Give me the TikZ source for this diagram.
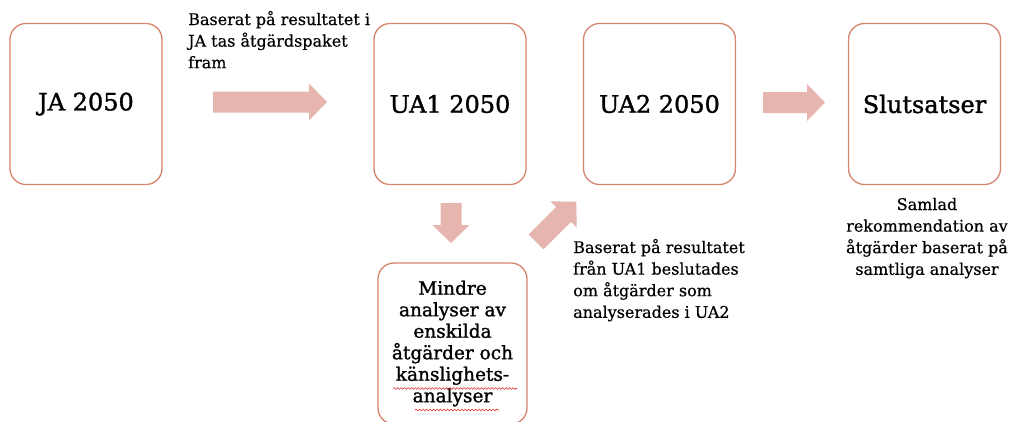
\documentclass[tikz,border=0pt]{standalone}
\usepackage{fontspec}
\setmainfont{DejaVu Serif}
\newfontfamily\boxfont{DejaVu Serif}[RawFeature={embolden=1.3}]
\newfontfamily\notefont{DejaVu Serif}[RawFeature={embolden=0.5}]
\usetikzlibrary{decorations.pathmorphing}
\definecolor{boxline}{RGB}{214,132,108}
\definecolor{arrowfill}{RGB}{230,181,173}
\definecolor{squig}{RGB}{220,40,40}
\tikzset{
  stagebox/.style={draw=boxline, line width=1.3pt, rounded corners=16pt, fill=white,
    minimum width=152pt, minimum height=161pt, inner sep=0pt, align=center,
    font=\boxfont\fontsize{24}{28}\selectfont},
  note/.style={inner sep=0pt, font=\notefont\fontsize{16}{21.6}\selectfont},
  pics/barrow/.style={code={
    \fill[arrowfill] (0,-10.5) -- ({#1-18},-10.5) -- ({#1-18},-18.5) -- (#1,0)
      -- ({#1-18},18.5) -- ({#1-18},10.5) -- (0,10.5) -- cycle;}},
  squiggle/.style={squig, line width=0.6pt, decorate,
    decoration={snake, amplitude=0.9pt, segment length=3.5pt}}
}
\begin{document}
\begin{tikzpicture}[x=1pt,y=-1pt]
\useasboundingbox (0,0) rectangle (1019,421);
% stage boxes
\node[stagebox] (ja)   at (86,104)    {JA 2050};
\node[stagebox] (ua1)  at (450,104)   {UA1 2050};
\node[stagebox] (ua2)  at (659.5,104) {UA2 2050};
\node[stagebox] (slut) at (924.5,104) {Slutsatser};
\node[stagebox, minimum width=149pt, font=\boxfont\fontsize{18.5}{21.5}\selectfont] (mindre) at (452.5,343.5)
  {Mindre\\analyser av\\enskilda\\åtgärder och\\känslighets-\\analyser};
% block arrows
\pic (a1) at (213,102) {barrow=114};
\pic (a3) at (763,102.5) {barrow=62};
\pic[rotate=-90] (a2) at (451,203) {barrow=40};
\pic[rotate=45] (a4) at (536,242) {barrow=57};
% notes (anchored at the baseline of the last line)
\node[note, anchor=base west, align=left] (n1) at (188,68.2)
  {Baserat på resultatet i\\JA tas åtgärdspaket\\fram};
\node[note, anchor=base west, align=left] (n2) at (573,317.8)
  {Baserat på resultatet\\från UA1 beslutades\\om åtgärder som\\analyserades i UA2};
\node[note, anchor=base, align=center] (n3) at (927,274.8)
  {Samlad\\rekommendation av\\åtgärder baserat på\\samtliga analyser};
% spell-check squiggles
\draw[squiggle] (393,388.5) -- (517,388.5);
\draw[squiggle] (415,410) -- (499,410);
\end{tikzpicture}
\end{document}
